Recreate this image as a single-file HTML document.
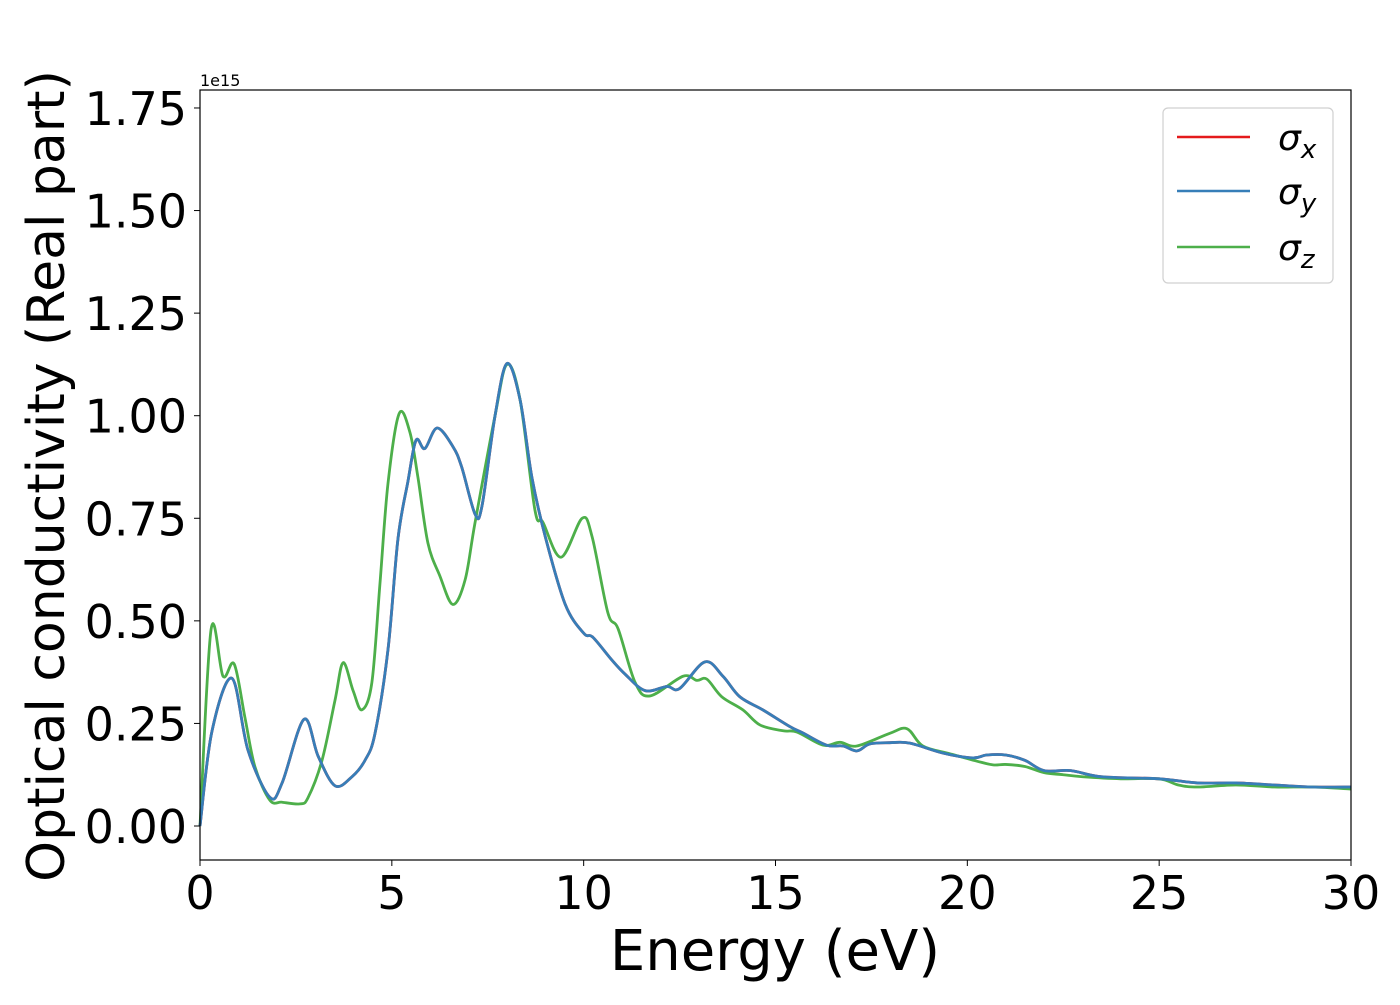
<!DOCTYPE html>
<html><head><meta charset="utf-8"><style>
body{margin:0;background:#fff;}
svg{font-family:"DejaVu Sans","Liberation Sans",sans-serif;}
</style></head><body>
<svg id="chart" width="1400" height="1000" viewBox="0 0 1400 1000" xmlns="http://www.w3.org/2000/svg">
<g id="series"></g>
<rect x="200" y="90" width="1151" height="770" fill="none" stroke="#000" stroke-width="1.2"/>
<g id="xticks"></g>
<g id="yticks"></g>
<text x="200" y="86" font-size="16">1e15</text>
<text x="775" y="970" font-size="56" text-anchor="middle">Energy (eV)</text>
<text transform="translate(64,476) rotate(-90)" font-size="52" text-anchor="middle">Optical conductivity (Real part)</text>
<g>
<rect x="1163" y="108" width="170" height="175" rx="5" fill="#fff" stroke="#ccc" stroke-width="1.2" opacity="0.9"/>
<line x1="1177" y1="137" x2="1250" y2="137" stroke="#e41a1c" stroke-width="2.5"/>
<text x="1278" y="150" font-size="36" font-style="italic">σ<tspan font-size="26" dy="8">x</tspan></text>
<line x1="1177" y1="191" x2="1250" y2="191" stroke="#377eb8" stroke-width="2.5"/>
<text x="1278" y="204" font-size="36" font-style="italic">σ<tspan font-size="26" dy="8">y</tspan></text>
<line x1="1177" y1="247" x2="1250" y2="247" stroke="#4daf4a" stroke-width="2.5"/>
<text x="1278" y="260" font-size="36" font-style="italic">σ<tspan font-size="26" dy="8">z</tspan></text>
</g>
</svg>
<script>
const xTickVals=[0,5,10,15,20,25,30];
const yTickVals=[0,0.25,0.5,0.75,1.0,1.25,1.5,1.75];
const yTickLabels=["0.00","0.25","0.50","0.75","1.00","1.25","1.50","1.75"];
const energyXY=[0,0.31,0.83,1.25,1.82,2.14,2.71,3.08,3.52,3.96,4.3,4.56,4.9,5.16,5.42,5.63,5.86,6.18,6.59,6.82,7.17,7.35,7.69,8.0,8.34,8.65,9.0,9.52,10.0,10.24,10.73,11.08,11.6,12.17,12.5,13.16,13.63,14.07,14.67,15.38,15.71,16.33,16.76,17.12,17.46,17.98,18.5,19.36,20.14,20.5,21,21.5,22,22.7,23.5,25,26,27,28,29,30];
const sigmaXY=[0,0.23,0.36,0.185,0.07,0.105,0.26,0.17,0.098,0.12,0.16,0.225,0.43,0.70,0.84,0.94,0.92,0.97,0.925,0.875,0.76,0.78,1.0,1.127,1.04,0.85,0.705,0.54,0.47,0.46,0.405,0.37,0.33,0.34,0.335,0.40,0.365,0.315,0.283,0.242,0.227,0.197,0.195,0.183,0.2,0.203,0.202,0.178,0.166,0.173,0.173,0.16,0.135,0.135,0.12,0.115,0.105,0.105,0.1,0.095,0.095];
const energyZ=[0,0.29,0.6,0.89,1.17,1.43,1.82,2.14,2.6,2.81,3.18,3.52,3.73,3.99,4.22,4.48,4.69,4.9,5.19,5.47,5.68,5.94,6.25,6.59,6.91,7.17,7.69,8.0,8.34,8.73,8.94,9.41,9.96,10.22,10.63,10.9,11.34,11.73,12.59,12.95,13.21,13.6,14.15,14.6,15.2,15.56,16.24,16.68,17.12,17.98,18.43,18.84,19.55,20.25,20.67,21,21.5,22,22.5,23,24,25,25.5,26,27,28,29,30];
const sigmaZ=[0,0.48,0.365,0.395,0.265,0.145,0.063,0.058,0.054,0.068,0.16,0.307,0.398,0.33,0.283,0.35,0.59,0.835,1.005,0.96,0.85,0.69,0.61,0.54,0.6,0.74,1.0,1.125,1.04,0.77,0.74,0.655,0.75,0.705,0.52,0.48,0.35,0.317,0.365,0.355,0.358,0.315,0.283,0.246,0.232,0.229,0.197,0.204,0.195,0.226,0.237,0.195,0.176,0.158,0.149,0.15,0.145,0.13,0.125,0.12,0.115,0.115,0.1,0.095,0.1,0.095,0.095,0.09];
const X=e=>200+(e-0)/30*1151;
const Y=v=>826-v*410.3;
const NS="http://www.w3.org/2000/svg";
function pathFor(xs,ys){
  const p=xs.map((x,i)=>[X(x),Y(ys[i])]);
  let d=`M${p[0][0]},${p[0][1]}`;
  for(let i=0;i<p.length-1;i++){
    const p0=p[Math.max(i-1,0)],p1=p[i],p2=p[i+1],p3=p[Math.min(i+2,p.length-1)];
    const c1=[p1[0]+(p2[0]-p0[0])/6,p1[1]+(p2[1]-p0[1])/6];
    const c2=[p2[0]-(p3[0]-p1[0])/6,p2[1]-(p3[1]-p1[1])/6];
    d+=`C${c1[0]},${c1[1]} ${c2[0]},${c2[1]} ${p2[0]},${p2[1]}`;
  }
  return d;
}
const g=document.getElementById('series');
[["sigma-x-line","#e41a1c",energyXY,sigmaXY],["sigma-z-line","#4daf4a",energyZ,sigmaZ],["sigma-y-line","#377eb8",energyXY,sigmaXY]].forEach(s=>{
  const el=document.createElementNS(NS,'path');
  
  
  el.setAttribute('d',pathFor(s[2],s[3]));
  el.setAttribute('fill','none');el.setAttribute('stroke',s[1]);el.setAttribute('stroke-width','2.8');
  g.appendChild(el);
});
const xt=document.getElementById('xticks');
xTickVals.forEach(v=>{
  const l=document.createElementNS(NS,'line');
  
  
  l.setAttribute('x1',X(v));l.setAttribute('x2',X(v));l.setAttribute('y1',860);l.setAttribute('y2',866);l.setAttribute('stroke','#000');
  xt.appendChild(l);
  const t=document.createElementNS(NS,'text');
  
  
  t.setAttribute('x',X(v));t.setAttribute('y',909);t.setAttribute('font-size','46');t.setAttribute('text-anchor','middle');
  t.textContent=v;xt.appendChild(t);
});
const yt=document.getElementById('yticks');
yTickVals.forEach((v,i)=>{
  const l=document.createElementNS(NS,'line');
  
  
  l.setAttribute('x1',194);l.setAttribute('x2',200);l.setAttribute('y1',Y(v));l.setAttribute('y2',Y(v));l.setAttribute('stroke','#000');
  yt.appendChild(l);
  const t=document.createElementNS(NS,'text');
  
  
  t.setAttribute('x',187);t.setAttribute('y',Y(v)+17);t.setAttribute('font-size','46');t.setAttribute('text-anchor','end');
  t.textContent=yTickLabels[i];yt.appendChild(t);
});
</script>
</body></html>
